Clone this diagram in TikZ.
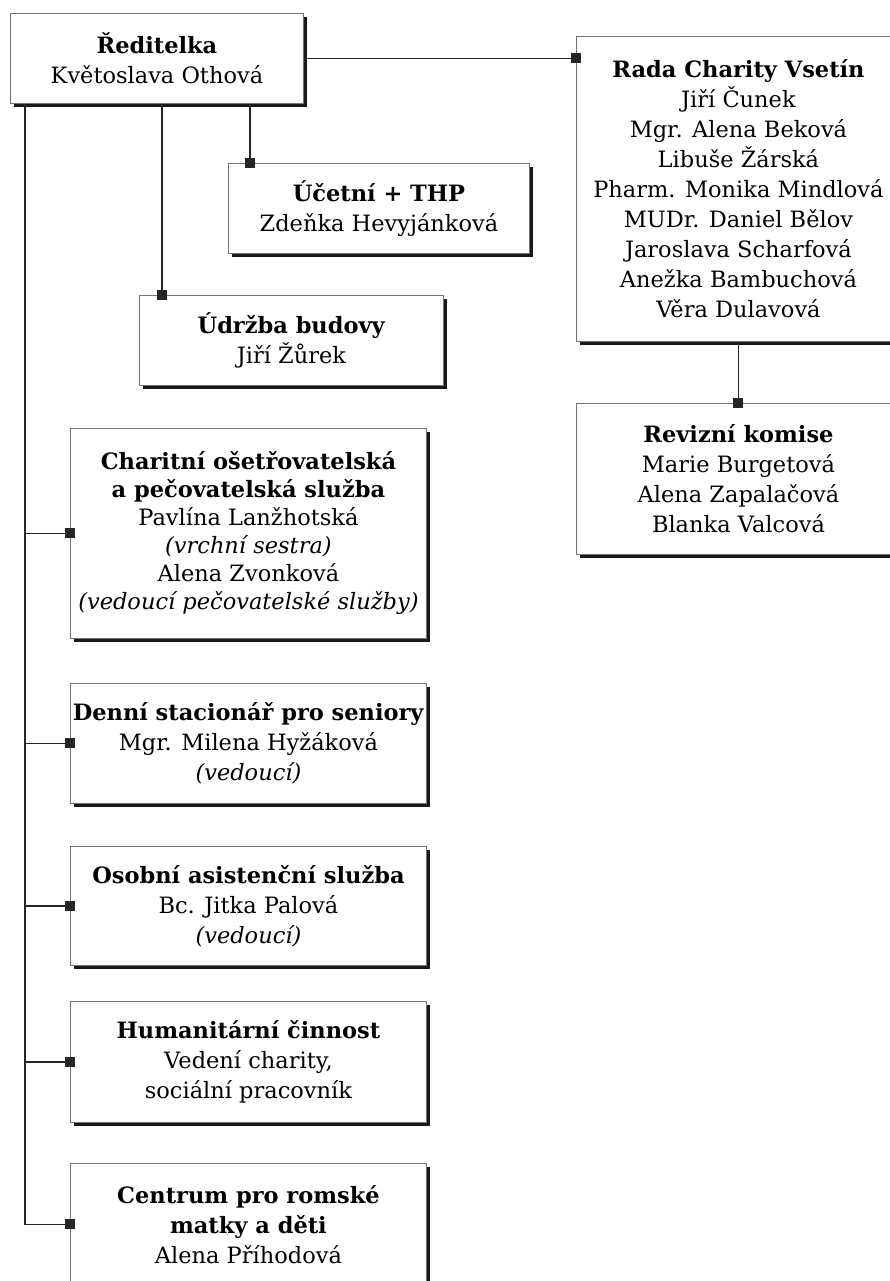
\documentclass[tikz,border=0pt]{standalone}
\usepackage{fontspec}
\setmainfont{DejaVu Serif}
\usetikzlibrary{arrows.meta,shadows}

\begin{document}
\begin{tikzpicture}[x=1pt, y=-1pt,
  box/.style={draw=black!55, line width=0.9pt, fill=white, anchor=north west,
              align=center, inner sep=0pt, font=\fontsize{22.5}{30}\selectfont,
              drop shadow={shadow xshift=4pt, shadow yshift=-4pt,
                           fill=black!90, opacity=1}},
  conn/.style={draw=black!85, line width=1.6pt},
  dot/.style={conn, -{Square[length=10pt, width=10pt]}, shorten >=-5pt}]
\useasboundingbox (0,0) rectangle (889,1281);
\node[box, minimum width=293pt, minimum height=90pt] (dir) at (10,13)
  {\textbf{Ředitelka}\\Květoslava Othová};
\node[box, minimum width=301pt, minimum height=90pt] (ucet) at (228,163)
  {\textbf{Účetní + THP}\\Zdeňka Hevyjánková};
\node[box, minimum width=304pt, minimum height=90pt] (udrz) at (139,295)
  {\textbf{Údržba budovy}\\Jiří Žůrek};
\node[box, minimum width=324pt, minimum height=305pt] (rada) at (576,36)
  {\textbf{Rada Charity Vsetín}\\Jiří Čunek\\Mgr. Alena Beková\\Libuše Žárská\\
   Pharm. Monika Mindlová\\MUDr. Daniel Bělov\\Jaroslava Scharfová\\
   Anežka Bambuchová\\Věra Dulavová};
\node[box, minimum width=324pt, minimum height=151pt] (rev) at (576,403)
  {\textbf{Revizní komise}\\Marie Burgetová\\Alena Zapalačová\\Blanka Valcová};
\node[box, minimum width=356pt, minimum height=210pt,
      font=\fontsize{22.5}{28}\selectfont] (char) at (70,428)
  {\textbf{Charitní ošetřovatelská}\\\textbf{a pečovatelská služba}\\
   Pavlína Lanžhotská\\\textit{(vrchní sestra)}\\Alena Zvonková\\
   \textit{(vedoucí pečovatelské služby)}};
\node[box, minimum width=356pt, minimum height=120pt] (denni) at (70,683)
  {\textbf{Denní stacionář pro seniory}\\Mgr. Milena Hyžáková\\\textit{(vedoucí)}};
\node[box, minimum width=356pt, minimum height=119pt] (osob) at (70,846)
  {\textbf{Osobní asistenční služba}\\Bc. Jitka Palová\\\textit{(vedoucí)}};
\node[box, minimum width=356pt, minimum height=121pt] (hum) at (70,1001)
  {\textbf{Humanitární činnost}\\Vedení charity,\\sociální pracovník};
\node[box, minimum width=356pt, minimum height=122pt] (cent) at (70,1163)
  {\textbf{Centrum pro romské}\\\textbf{matky a děti}\\Alena Příhodová};
% connectors
\coordinate (spine) at ([xshift=15pt]dir.south west);
\coordinate (ucettop) at ([xshift=22pt]ucet.north west);
\coordinate (udrztop) at ([xshift=23pt]udrz.north west);
\draw[dot] (dir.east) -- (dir.east -| rada.west);
\draw[dot] (dir.south -| ucettop) -- (ucettop);
\draw[dot] (dir.south -| udrztop) -- (udrztop);
\draw[dot] (rada.south) -- (rev.north);
\draw[dot] (spine) |- (cent.west);
\foreach \b in {char,denni,osob,hum}
  \draw[dot] (spine |- \b.west) -- (\b.west);
\end{tikzpicture}
\end{document}
